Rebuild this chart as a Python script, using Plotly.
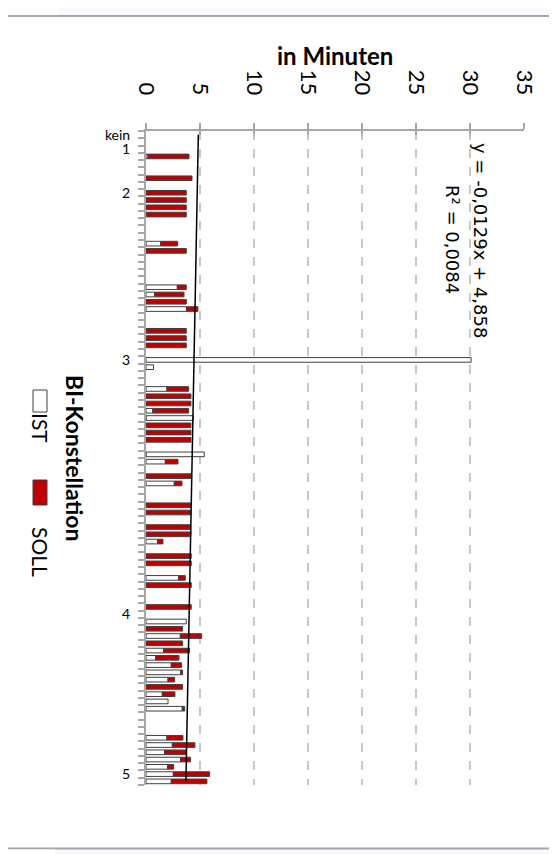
import plotly.graph_objects as go

# ---------------- data ----------------
# one entry per category row (top to bottom), values in minutes
ist = [None, None, None, 0.18, None, None, None, None, None, None,
       None, None, None, None, None, 1.36, None, None, None, None,
       None, 2.90, 0.80, None, 3.76, None, None, None, None, None,
       None, 30.1, 0.70, None, None, 1.94, None, None, 0.62, 4.38,
       None, None, None, None, 5.40, 1.79, None, None, 2.62, None,
       None, None, None, None, None, None, 1.08, None, None, None,
       None, 3.02, None, None, None, None, None, 3.73, None, 3.18,
       None, 1.63, 0.89, 2.34, 3.21, 2.04, None, 1.51, 2.04, 3.36,
       None, None, None, 1.94, 2.44, 1.73, 3.21, 2.00, 2.53, 2.34]
soll = [None, None, None, 3.80, None, None, 4.26, None, 3.73, 3.73,
        3.73, 3.73, None, None, None, 1.57, 3.73, None, None, None,
        None, 0.83, 2.72, 3.73, 1.05, None, None, 3.73, 3.73, 3.73,
        None, None, None, None, None, 2.01, 4.16, 4.16, 3.33, -0.15,
        4.16, 4.16, 4.16, None, -0.20, 1.17, None, 4.16, 0.71, None,
        None, 4.13, 4.13, None, 4.13, 4.16, 0.49, None, 4.19, 4.19,
        None, 0.62, 4.19, None, None, 4.19, None, None, 3.39, 1.97,
        3.39, 2.41, 2.16, 0.96, 0.18, 0.61, 3.39, 1.17, None, 0.22,
        None, None, None, 1.48, 2.09, 1.97, 0.92, 0.56, 3.36, 3.30]
rows = list(range(len(ist)))

category_labels = ["kein", "1", "2", "3", "4", "5"]
category_rows = [0, 2, 8, 31, 66, 88]

value_ticks = [0, 5, 10, 15, 20, 25, 30, 35]

trend_slope = -0.0129
trend_intercept = 4.858
trend_text = "y = -0,0129x + 4,858"
r2_text = "R² = 0,0084"

# ---------------- layout geometry (page pixels) ----------------
OFF = 8                      # default body margin of the html page
W, H = 557 - OFF, 854 - OFF
P_LEFT, P_RIGHT, P_TOP, P_BOTTOM = 146, 524, 131, 785
ML, MR = P_LEFT - OFF, 557 - P_RIGHT
MT, MB = P_TOP - OFF, 854 - P_BOTTOM
PW, PH = P_RIGHT - P_LEFT, P_BOTTOM - P_TOP


def px(x):
    return (x - P_LEFT) / PW


def py(y):
    return 1 - (y - P_TOP) / PH


FONT = "Lato"

fig = go.Figure()
fig.add_trace(go.Bar(
    y=rows, x=ist, orientation="h", name="IST", width=0.64,
    marker=dict(color="#ffffff", line=dict(color="#404040", width=1)),
))
fig.add_trace(go.Bar(
    y=rows, x=soll, orientation="h", name="SOLL", width=0.64,
    marker=dict(color="#c00000", line=dict(color="#404040", width=1)),
))

trend_x = [trend_slope * (r + 1) + trend_intercept for r in (rows[0], rows[-1])]
fig.add_trace(go.Scatter(
    x=trend_x, y=[rows[0], rows[-1]], mode="lines", xaxis="x2", yaxis="y",
    line=dict(color="#000000", width=1.5), showlegend=False, hoverinfo="skip",
))

fig.update_layout(
    width=W, height=H,
    margin=dict(l=ML, r=MR, t=MT, b=MB),
    paper_bgcolor="#f8f9fd", plot_bgcolor="#ffffff",
    barmode="relative",
    showlegend=False,
    font=dict(family=FONT, color="#000000"),
    xaxis=dict(
        range=[0, 35], side="top", tickmode="array", tickvals=value_ticks,
        tickangle=90, tickfont=dict(size=22, family=FONT, color="#000000"),
        ticks="outside", ticklen=6, tickwidth=1.5, tickcolor="#a6a6a6",
        ticklabelstandoff=20,
        showline=True, linecolor="#a6a6a6", linewidth=2,
        showgrid=True, gridcolor="#c8c8c8", gridwidth=1.5, griddash="dash",
        zeroline=False, fixedrange=True,
    ),
    xaxis2=dict(
        range=[0, 35], overlaying="x", side="top", anchor="y",
        tickmode="array", tickvals=value_ticks,
        ticks="inside", ticklen=4, tickwidth=1.5, tickcolor="#a6a6a6",
        showticklabels=False, showgrid=False, showline=False, zeroline=False,
    ),
    yaxis=dict(
        range=[len(rows) - 0.5, -0.5], tickmode="array",
        tickvals=category_rows, ticktext=category_labels,
        tickfont=dict(size=14, family=FONT, color="#000000"),
        ticks="outside", ticklen=0, tickcolor="rgba(0,0,0,0)",
        ticklabelstandoff=11,
        minor=dict(ticks="outside", ticklen=6, tickwidth=1.5, tickcolor="#a6a6a6",
                   tick0=-0.5, dtick=1, showgrid=False),
        showline=True, linecolor="#a6a6a6", linewidth=2,
        showgrid=False, zeroline=False,
    ),
)

shapes = [
    # white area of the chart frame
    dict(type="rect", xref="paper", yref="paper", x0=px(-5), x1=px(553),
         y0=py(848.5), y1=py(16), fillcolor="#ffffff",
         line=dict(color="#a6a6a6", width=2), layer="below"),
    dict(type="rect", xref="paper", yref="paper", x0=px(-5), x1=px(59),
         y0=py(15), y1=py(-5), fillcolor="#ffffff", line=dict(width=0), layer="below"),
    dict(type="rect", xref="paper", yref="paper", x0=px(-5), x1=px(55),
         y0=py(860), y1=py(849.5), fillcolor="#ffffff", line=dict(width=0), layer="below"),
    # legend keys
    dict(type="rect", xref="paper", yref="paper", x0=px(33), x1=px(47),
         y0=py(412), y1=py(390), fillcolor="#ffffff",
         line=dict(color="#404040", width=1)),
    dict(type="rect", xref="paper", yref="paper", x0=px(33), x1=px(47),
         y0=py(505), y1=py(480), fillcolor="#c00000",
         line=dict(color="#404040", width=1)),
]
fig.update_layout(shapes=shapes)

annotations = [
    dict(text="<b>in Minuten</b>", x=0.5, y=py(56), xref="paper", yref="paper",
         showarrow=False, font=dict(size=24, family=FONT), xanchor="center", yanchor="middle"),
    dict(text=trend_text, x=px(480), y=py(240), xref="paper", yref="paper",
         showarrow=False, textangle=90, font=dict(size=18, family="DejaVu Sans"),
         xanchor="center", yanchor="middle"),
    dict(text=r2_text, x=px(453), y=py(239), xref="paper", yref="paper",
         showarrow=False, textangle=90, font=dict(size=18, family="DejaVu Sans"),
         xanchor="center", yanchor="middle"),
    dict(text="<b>BI-Konstellation</b>", x=px(75), y=py(458), xref="paper", yref="paper",
         showarrow=False, textangle=90, font=dict(size=23, family=FONT),
         xanchor="center", yanchor="middle"),
    dict(text="IST", x=px(41), y=py(428), xref="paper", yref="paper",
         showarrow=False, textangle=90, font=dict(size=21, family=FONT),
         xanchor="center", yanchor="middle"),
    dict(text="SOLL", x=px(41), y=py(552), xref="paper", yref="paper",
         showarrow=False, textangle=90, font=dict(size=21, family=FONT),
         xanchor="center", yanchor="middle"),
]
fig.update_layout(annotations=annotations)

fig.write_html("out.html")
